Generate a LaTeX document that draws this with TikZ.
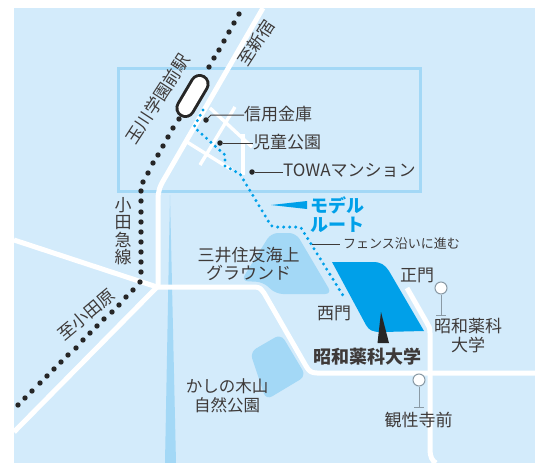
\documentclass[tikz,border=0pt]{standalone}
\usepackage{fontspec}
\setmainfont{Noto Sans CJK JP}
\definecolor{mapbg}{HTML}{D3EBFB}
\definecolor{parkblue}{HTML}{A3D8F6}
\definecolor{routeblue}{HTML}{00A0E9}
\definecolor{inkgrey}{HTML}{3E3A39}
\definecolor{stemgrey}{HTML}{8A9AA5}
\tikzset{
  road/.style={draw=white,line width=5pt,line join=round},
  smallroad/.style={draw=white,line width=3.4pt},
  park/.style={fill=parkblue,rounded corners=7pt},
  raildot/.style={fill=black!85,draw=none},
  routedot/.style={draw=routeblue,line width=3.3pt,dash pattern=on 0pt off 6pt,line cap=round},
  maplabel/.style={text=inkgrey,font=\fontsize{17}{19}\selectfont,inner sep=0pt,align=center},
  smalllabel/.style={text=inkgrey,font=\fontsize{13}{15}\selectfont,inner sep=0pt},
  boldlabel/.style={font=\fontsize{18}{19}\selectfont\bfseries,inner sep=0pt,align=left},
  leader/.style={draw=inkgrey,line width=1pt},
  stopdot/.style={circle,fill=white,draw=stemgrey,line width=1pt,minimum size=12pt,inner sep=0pt},
  pindot/.style={circle,fill=black!85,minimum size=5.5pt,inner sep=0pt}
}
\begin{document}
\begin{tikzpicture}[x=1pt,y=-1pt]
\useasboundingbox (0,0) rectangle (541,463);
\fill[white] (0,0) rectangle (541,463);
\fill[mapbg] (14,8) rectangle (535,463);
% river
\fill[parkblue] (170,195) -- (165,463) -- (176,463) -- cycle;
% frame
\draw[parkblue,line width=3pt] (118.5,68.5) rectangle (420,191);
% parks
\fill[park] (271,233) -- (296,233) -- (332,294) -- (276,294) -- (263,282) -- (241,281) -- cycle;
\fill[park] (250,352) -- (281,334) -- (306,376) -- (266,400) -- cycle;
% university
\fill[routeblue] (332,262) -- (373,262) .. controls (381,262) and (385,265) .. (389,271) -- (424,331)
  -- (383,332) -- (381,332) .. controls (372,332) and (369,330) .. (366,325) -- cycle;
% roads
\draw[road] (263,8) -- (166,176) .. controls (160,186) and (158,190) .. (158,200) -- (158,287);
\draw[road] (14,240) -- (157,287);
\draw[road] (14,432) -- (157,287);
\draw[road] (154,287) -- (255,287) .. controls (260,287) and (262,290) .. (264,293) -- (306,366) .. controls (309,371) and (311,373) .. (317,373) -- (535,373);
\draw[road] (407,288) -- (427,323) .. controls (429,326) and (430,328) .. (430,333) -- (430,450) .. controls (430,456) and (432,461) .. (436,463);
% small streets
\draw[smallroad] (210,108) -- (252,147);
\draw[smallroad] (235,107) -- (200,165);
\draw[smallroad] (187,142) -- (232,170);
\draw[smallroad] (243,134) -- (243,175);
% railway
\foreach \x/\y in {239/14,234/23,229/32,224/41,219/50,214/58,209/67,179/119,173/128,168/137,163/146,158/155,153/163,148/173,143/182,141/191,141/201,141/212,141/222,141/232,141/242,141/252,141/262,141/272,140/282,133/290,126/297,119/305,112/312,104/319,97/326,90/333,83/340,76/348,68/355,61/362,54/369,47/376,40/383,32/391,25/398,18/405}
  \fill[raildot] (\x,\y) circle (2.7pt);
% station
\draw[black!85,line width=20pt,line cap=round] (199.6,84) -- (185.4,108);
\draw[white,line width=14pt,line cap=round] (199.6,84) -- (185.4,108);
% route
\draw[routedot] (203,110) -- (194,127) -- (225,155) -- (225,166) -- (240,174) -- (270,224) .. controls (272,227) and (274,227) .. (277,227) -- (298,227) .. controls (301,227) and (302,229) .. (303,231) -- (344,297);
% pointer to route
\fill[routeblue] (271,205) -- (307,201) -- (307,209) -- cycle;
% university pin
\fill[black!85] (381,312) -- (377.5,343) -- (389,343) -- cycle;
% leaders
\node[pindot] (pinA) at (206,120) {};
\node[maplabel,anchor=west] (shinyo) at (244,114) {信用金庫};
\coordinate (bendA) at (211,115);
\draw[leader] (pinA) -- (bendA) -- (shinyo.west |- bendA);
\node[pindot] (pinB) at (220,143) {};
\node[maplabel,anchor=west] (jido) at (253,142) {児童公園};
\draw[leader] (pinB) -- (jido.west |- pinB);
\node[pindot] (pinC) at (252,172) {};
\node[maplabel,anchor=west] (towa) at (283,170) {TOWAマンション};
\draw[leader] (pinC) -- (towa.west |- pinC);
\coordinate (fenceStart) at (312,244);
\node[smalllabel,anchor=west] (fence) at (343,244) {フェンス沿いに進む};
\draw[leader] (fenceStart) -- ([xshift=-3pt]fence.west);
% labels
\node[boldlabel,text=routeblue] (model) at (337.5,215) {モデル\\ルート};
\node[maplabel,font=\fontsize{17}{18.5}\selectfont] (mitsui) at (248.5,264) {三井住友海上\\グラウンド};
\node[maplabel] (seimon) at (417,275) {正門};
\node[maplabel] (nishi) at (334,313) {西門};
\node[maplabel,font=\fontsize{16.5}{18.5}\selectfont] (kashi) at (227,396) {かしの木山\\自然公園};
\node[maplabel] (daigaku) at (468,336) {昭和薬科\\大学};
\node[maplabel] (kansho) at (418.5,420) {観性寺前};
\node[boldlabel,text=inkgrey] (shouwa) at (367,357) {昭和薬科大学};
% bus stops
\node[stopdot] (stopA) at (441,288) {};
\coordinate (baseA) at (441,315);
\draw[stemgrey,line width=1pt] (stopA.south) -- (baseA) ([xshift=-5pt]baseA) -- ([xshift=5pt]baseA);
\node[stopdot] (stopB) at (419,380) {};
\coordinate (baseB) at (419,407);
\draw[stemgrey,line width=1pt] (stopB.south) -- (baseB) ([xshift=-5pt]baseB) -- ([xshift=5pt]baseB);
% rotated
\node[maplabel,rotate=57] (tamagawa) at (158,99) {玉川学園前駅};
\node[maplabel,rotate=57] (shinjuku) at (256,43) {至新宿};
\node[maplabel,rotate=40] (odawara) at (86,315) {至小田原};
\node[maplabel,font=\fontsize{17}{17.5}\selectfont] (odakyu) at (123,231) {小\\田\\急\\線};
\end{tikzpicture}
\end{document}
